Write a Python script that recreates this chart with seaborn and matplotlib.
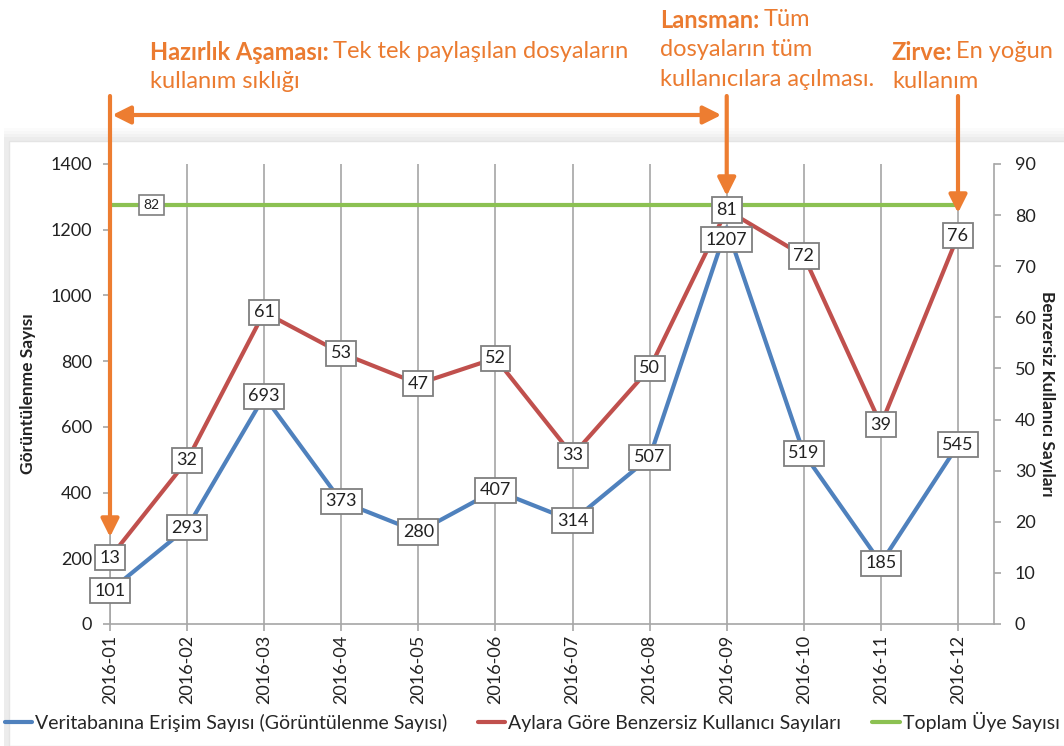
import matplotlib
matplotlib.use("Agg")
import matplotlib.pyplot as plt
import seaborn as sns
import pandas as pd
import numpy as np
from matplotlib.patches import Rectangle
from matplotlib.lines import Line2D

months = ["2016-01", "2016-02", "2016-03", "2016-04", "2016-05", "2016-06",
          "2016-07", "2016-08", "2016-09", "2016-10", "2016-11", "2016-12"]
views = [101, 293, 693, 373, 280, 407, 314, 507, 1207, 519, 185, 545]
unique_users = [13, 32, 61, 53, 47, 52, 33, 50, 81, 72, 39, 76]
total_members = [82] * 12

series_names = ["Veritabanına Erişim Sayısı (Görüntülenme Sayısı)",
                "Aylara Göre Benzersiz Kullanıcı Sayıları",
                "Toplam Üye Sayısı"]
left_label = "Görüntülenme Sayısı"
right_label = "Benzersiz Kullanıcı Sayıları"

sns.set_theme(style="white")
FONT = ["Lato", "DejaVu Sans"]
plt.rcParams["font.family"] = FONT

BLUE = "#4F81BD"
RED = "#C0504D"
GREEN = "#8CC152"
ORANGE = "#ED7D31"
GRID = "#A6A6A6"

W, H = 1064, 746
fig = plt.figure(figsize=(W / 100, H / 100), dpi=100)
fig.patch.set_facecolor("white")

# panel with soft shadow
for i, a in enumerate([0.03, 0.04, 0.05, 0.06]):
    fig.patches.append(Rectangle((0.004, 0), 1.0, 1 - (128 + i * 3) / H,
                                 transform=fig.transFigure, facecolor="#9a9a9a",
                                 alpha=a, edgecolor="none", zorder=-10))
fig.patches.append(Rectangle((0.008, 0), 1.0, 1 - 141 / H, transform=fig.transFigure,
                             facecolor="white", edgecolor="#e4e4e4", lw=1, zorder=-9))

x0, x1 = 110, 994
yb, yt = 624, 164
ax = fig.add_axes([x0 / W, 1 - yb / H, (x1 - x0) / W, (yb - yt) / H])
ax.set_facecolor("none")
ax2 = ax.twinx()
ax2.set_facecolor("none")
ax.set_zorder(1)
ax2.set_zorder(2)

df = pd.DataFrame({"x": np.arange(len(months)), "views": views,
                   "users": unique_users, "total": total_members})

sns.lineplot(data=df, x="x", y="views", ax=ax, color=BLUE, lw=3, zorder=3)
sns.lineplot(data=df, x="x", y="users", ax=ax2, color=RED, lw=3, zorder=3)
sns.lineplot(data=df, x="x", y="total", ax=ax2, color=GREEN, lw=3, zorder=2)

xmax = (x1 - x0) / ((958 - 110) / 11)
ax.set_xlim(0, xmax)
ax2.set_xlim(0, xmax)
ax.set_ylim(0, 1400)
ax2.set_ylim(0, 90)
ax.set_yticks(np.arange(0, 1401, 200))
ax2.set_yticks(np.arange(0, 91, 10))
ax.set_xticks(df["x"])
ax.set_xticklabels(months, rotation=90, fontsize=13)
ax.grid(axis="x", color=GRID, lw=1.2)
ax.grid(axis="y", visible=False)
ax2.grid(False)

for a in (ax, ax2):
    for s in a.spines.values():
        s.set_visible(False)
ax.spines["left"].set_visible(True)
ax.spines["bottom"].set_visible(True)
ax2.spines["right"].set_visible(True)
for s in (ax.spines["left"], ax.spines["bottom"], ax2.spines["right"]):
    s.set_color(GRID)
    s.set_linewidth(1.2)

ax.tick_params(axis="x", direction="out", length=5, color=GRID, width=1.2,
               labelsize=13, labelcolor="#222222", bottom=True, pad=3)
ax.tick_params(axis="y", direction="out", length=5, color=GRID, width=1.2,
               labelsize=13, labelcolor="#222222", left=True, pad=8)
ax2.tick_params(axis="y", direction="out", length=5, color=GRID, width=1.2,
                labelsize=13, labelcolor="#222222", right=True, pad=10)

ax.set_xlabel("")
ax.set_ylabel(left_label, fontsize=12.5, fontweight="bold", color="#222222", labelpad=10)
ax2.set_ylabel(right_label, fontsize=12.5, fontweight="bold", color="#222222",
               rotation=270, labelpad=14)

box = dict(boxstyle="square,pad=0.25", facecolor="white", edgecolor="#7f7f7f", lw=1.3)
for i, v in enumerate(unique_users):
    ax2.text(i, v, str(v), ha="center", va="center", fontsize=13, color="#222222",
             bbox=box, zorder=6)
view_offsets = [0] * len(views)
view_offsets[8] = -9  # label of the peak sits a little below its point
for i, v in enumerate(views):
    ax2.annotate(str(v), (i, v), xycoords=ax.transData, xytext=(0, view_offsets[i]),
                 textcoords="offset points", ha="center", va="center", fontsize=13,
                 color="#222222", bbox=box, zorder=7)
ax2.text(0.54, total_members[0], str(total_members[0]), ha="center", va="center",
         fontsize=10, color="#222222",
         bbox=dict(boxstyle="square,pad=0.3", facecolor="white", edgecolor="#7f7f7f", lw=1.2),
         zorder=6)

# orange annotations (x in data, y in figure pixels)
def fy(py):
    return H - py

arrow_kw = dict(arrowstyle="-|>,head_length=0.9,head_width=0.45", color=ORANGE, lw=3,
                shrinkA=0, shrinkB=0)
for xd, tip in [(0, 537), (8, 196), (11, 213)]:
    ax2.annotate("", xy=(xd, fy(tip)), xytext=(xd, fy(96)),
                 xycoords=("data", "figure pixels"), textcoords=("data", "figure pixels"),
                 arrowprops=arrow_kw, annotation_clip=False, zorder=10)
ax2.annotate("", xy=(0.03, fy(115)), xytext=(7.93, fy(115)),
             xycoords=("data", "figure pixels"), textcoords=("data", "figure pixels"),
             arrowprops=dict(arrowstyle="<|-|>,head_length=0.9,head_width=0.45", color=ORANGE,
                             lw=3, shrinkA=0, shrinkB=0),
             annotation_clip=False, zorder=10)

TXT = "#EB7B30"
fig.canvas.draw()
renderer = fig.canvas.get_renderer()


def two_part(px, py, bold, rest, size=17):
    t = fig.text(px / W, 1 - py / H, bold, fontsize=size, fontweight="bold", color=TXT,
                 ha="left", va="center")
    bb = t.get_window_extent(renderer=renderer)
    fig.text((bb.x1 + 4) / W, 1 - py / H, rest, fontsize=size, color=TXT,
             ha="left", va="center")


def plain(px, py, s, size=17):
    fig.text(px / W, 1 - py / H, s, fontsize=size, color=TXT, ha="left", va="center")


two_part(150, 52, "Hazırlık Aşaması:", "Tek tek paylaşılan dosyaların")
plain(150, 82, "kullanım sıklığı")
two_part(660, 20, "Lansman:", "Tüm")
plain(660, 50, "dosyaların tüm")
plain(660, 80, "kullanıcılara açılması.")
two_part(892, 52, "Zirve:", "En yoğun")
plain(892, 82, "kullanım")

handles = [Line2D([], [], color=c, lw=3) for c in (BLUE, RED, GREEN)]
fig.legend(handles, series_names, loc="center", bbox_to_anchor=(0.5, 1 - 722 / H),
           ncol=3, frameon=False, fontsize=14, handlelength=1.4, handletextpad=0.15,
           columnspacing=1.6, borderaxespad=0, borderpad=0)

fig.savefig("out.png", dpi=100, facecolor="white")
